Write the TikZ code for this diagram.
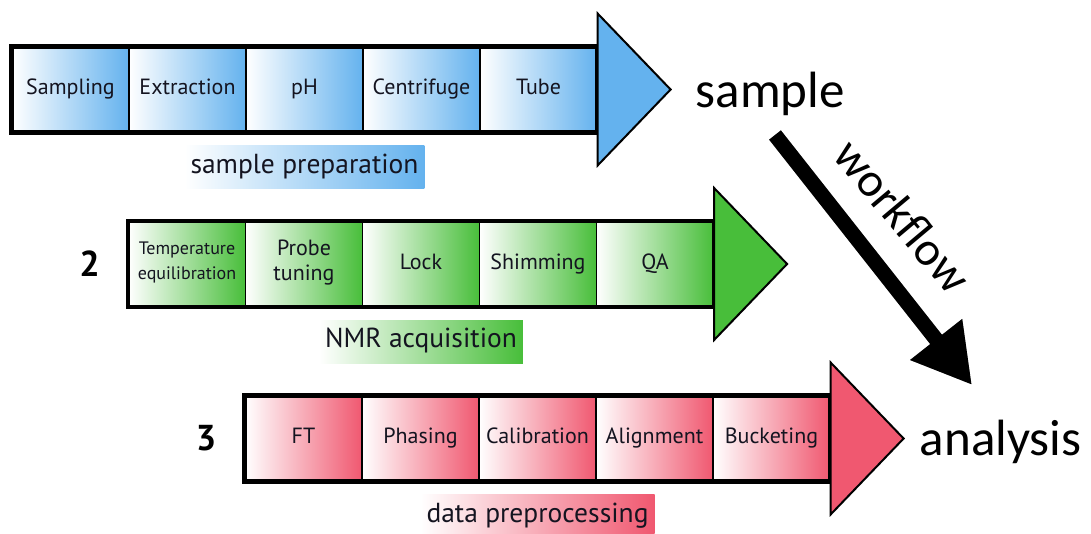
\documentclass[tikz,border=0pt]{standalone}
\usepackage{fontspec}
\setmainfont{PT Sans}
\newfontfamily\wordfont{Carlito}
\usetikzlibrary{positioning,arrows.meta}
\definecolor{sblue}{RGB}{100,178,238}
\definecolor{agreen}{RGB}{72,190,58}
\definecolor{pred}{RGB}{240,88,112}
\definecolor{inkcol}{RGB}{20,20,32}
\newcommand\smallcell{\fontsize{18}{20}\selectfont}
\tikzset{
	cell/.style={draw, line width=1.2pt, minimum width=117pt, minimum height=85pt,
		inner sep=0pt, align=center, text=inkcol, font=\fontsize{22}{25}\selectfont,
		execute at begin node=\strut},
	capbox/.style={minimum height=43pt, inner xsep=6pt, inner ysep=0pt, text=inkcol,
		font=\fontsize{27.5}{29}\selectfont, execute at begin node=\strut},
	bigword/.style={inner sep=0pt, font=\wordfont\fontsize{51}{54}\selectfont},
	rownum/.style={inner sep=0pt, font=\bfseries\fontsize{36}{38}\selectfont},
}
\begin{document}
\begin{tikzpicture}[x=1pt,y=-1pt]
	\useasboundingbox (0,0) rectangle (1091,533);
	\foreach \r/\yc/\col/\cells/\cap [count=\k from 0] in {
		s/89.5/sblue/{Sampling,Extraction,pH,Centrifuge,Tube}/sample preparation,
		a/264/agreen/{{\smallcell Temperature\\\smallcell equilibration},{Probe\\tuning},Lock,Shimming,QA}/NMR acquisition,
		p/438.5/pred/{FT,Phasing,Calibration,Alignment,Bucketing}/data preprocessing}{
		\pgfmathsetmacro\xo{12+116.5*\k}
		\foreach \t [count=\i] in \cells{
			\node[cell, left color=white, right color=\col] (\r\i) at ({\xo+58.5+117*(\i-1)},\yc) {\t};
		}
		\draw[line width=4.5pt] (\r1.north west) rectangle (\r5.south east);
		\draw[fill=\col, line width=2pt, line join=miter] (\r5.east) ++(0,-76) coordinate (\r-top)
			-- ++(73,76) coordinate (\r-tip) -- ++(-73,76) coordinate (\r-bot) -- cycle;
		\node[capbox, left color=white, right color=\col, below=13pt of \r3] (\r-cap) {\cap};
	}
	\node[rownum, left=28pt of a1] (num2) {2};
	\node[rownum, left=28pt of p1] (num3) {3};
	\node[bigword, right=25pt of s-tip, yshift=-4pt] (sample) {sample};
	\node[bigword, right=16pt of p-tip, yshift=-3pt] (analysis) {analysis};
	% workflow arrow with a soft shadow
	\coordinate (wf-a) at (775,135);
	\coordinate (wf-b) at (972,385);
	\foreach \o/\op in {7/0.08,5/0.12,3/0.18}{
		\draw[line width=15pt, black, opacity=\op, shift={(\o,\o)},
			-{Triangle[length=58pt,width=62pt]}] (wf-a) -- (wf-b);
	}
	\draw[line width=15pt, -{Triangle[length=58pt,width=62pt]}] (wf-a) -- (wf-b);
	\node[bigword, font=\wordfont\fontsize{48}{50}\selectfont, rotate=-50] (wflabel) at (903,216) {workflow};
\end{tikzpicture}
\end{document}
